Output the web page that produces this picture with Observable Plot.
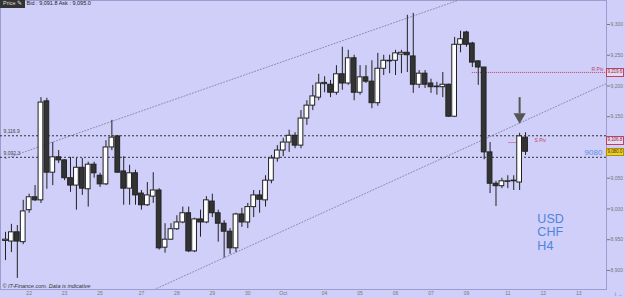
<!DOCTYPE html>
<html><head><meta charset="utf-8">
<script src="https://cdn.jsdelivr.net/npm/d3@7"></script>
<script src="https://cdn.jsdelivr.net/npm/@observablehq/plot@0.6"></script>
<style>
body{margin:0;background:#cfcff9;overflow:hidden;font-family:"Liberation Sans",Arial,sans-serif}
#wrap{position:relative;width:625px;height:298px}
.ov{position:absolute;white-space:nowrap;line-height:1}
</style></head>
<body><div id="wrap"></div>
<script>
// ---- data (USD/CHF H4 candles, values in pips x 10^-4) ----
const opens  = [8948,8947,8962,8946,8998,9019,9014,9175,9059,9084,9079,9050,9038,9067,9032,9072,9054,9040,9100,9118,9061,9033,9058,9025,9006,9020,9030,8937,8950,8967,8978,8993,8931,8983,8978,9012,8993,8976,8963,8936,8991,8978,9003,9022,9014,9046,9082,9095,9108,9119,9103,9147,9168,9181,9203,9202,9189,9219,9204,9245,9189,9214,9207,9172,9228,9240,9241,9251,9254,9248,9202,9220,9204,9198,9198,9202,9150,9267,9287,9269,9240,9230,9092,9041,9037,9044,9045,9043,9116];
const highs  = [8962,8975,8973,9014,9024,9038,9181,9180,9108,9095,9080,9084,9082,9082,9076,9076,9058,9111,9144,9119,9085,9071,9063,9030,9043,9059,9033,8976,8976,8989,9003,9003,8985,8998,9020,9024,8998,8981,8968,8993,9001,9009,9030,9030,9054,9087,9103,9115,9128,9124,9160,9176,9201,9219,9215,9209,9233,9263,9258,9250,9233,9233,9241,9253,9250,9250,9258,9258,9315,9318,9225,9225,9211,9206,9222,9203,9279,9289,9289,9271,9241,9230,9108,9045,9050,9054,9054,9123,9124];
const lows   = [8916,8929,8887,8942,8993,9012,9009,9032,9038,9074,9046,9027,8998,9022,9003,9050,9035,9038,9095,9058,9006,9006,9006,8998,9004,9009,8933,8928,8949,8965,8976,8929,8929,8954,8976,8986,8946,8920,8926,8929,8970,8968,8986,8993,9003,9041,9076,9085,9092,9098,9098,9136,9160,9176,9189,9181,9185,9193,9201,9176,9185,9204,9163,9167,9217,9220,9217,9220,9222,9188,9196,9196,9188,9185,9181,9149,9149,9254,9263,9230,9201,9080,9025,9004,9033,9033,9030,9030,9087];
const closes = [8950,8962,8947,8996,9019,9014,9173,9059,9084,9079,9050,9038,9067,9033,9072,9058,9040,9100,9116,9059,9033,9058,9022,9006,9022,9030,8936,8950,8967,8978,8993,8931,8983,8978,9014,8993,8976,8963,8936,8991,8978,9003,9022,9015,9046,9082,9095,9108,9119,9103,9147,9168,9183,9204,9205,9189,9219,9204,9245,9189,9214,9207,9172,9228,9241,9241,9253,9254,9250,9202,9220,9202,9198,9199,9202,9150,9267,9276,9267,9238,9230,9092,9041,9037,9045,9045,9046,9118,9093];

const xTickPos    = [4,10,16,23,29,35,41,47,54,60,66,72,78,85,91,97];
const xTickLabels = ["22","23","25","27","28","29","30","Oct","04","05","06","07","09","11","12","13"];
const yTicks = [8900,8950,9000,9050,9150,9200,9250,9300];

const levels = [9119, 9084];             // dashed horizontal levels
const levelLabels = ["9,116.9","9,092.3"];
const rPiv = 9222, rPivStart = 79, rPivLabel = "9,219.6";
const sPiv = 9108, sPivStart = 85.2, sPivEnd = 87, sPivLabel = "9,106.8";
const priceLevel = 9092, priceLabel = "9,080.0", priceText = "9080";
const upperTrend = [{i:0, v:9082},{i:76.5, v:9339}];
const lowerTrend = [{i:25.2, v:8869},{i:101.7, v:9204}];
const arrowAt = {i:87, top:9181, bottom:9155, head:9150};
const symbolLines = ["USD","CHF","H4"];
const symbolLineY = [8984,8962,8939];

const candles = opens.map((o,i)=>({i, open:o, high:highs[i], low:lows[i], close:closes[i]}));
const xDom = [-0.846, 101.7];

const plot = Plot.plot({
  width:625, height:298,
  marginLeft:0, marginRight:19, marginTop:0, marginBottom:9,
  style:{background:"#cfcff9", fontFamily:"Liberation Sans, Arial, sans-serif", overflow:"visible"},
  x:{domain:xDom, axis:null},
  y:{domain:[8869,9339], axis:null},
  marks:[
    Plot.frame({stroke:"#9c9cd0"}),
    Plot.ruleY(levels, {y:d=>d, stroke:"#333", strokeDasharray:"2,2"}),
    Plot.text(levels, {y:d=>d, text:(d,i)=>levelLabels[i], frameAnchor:"left", textAnchor:"start", dx:3, dy:-4, fontSize:5, fill:"#444"}),
    Plot.line(upperTrend, {x:"i", y:"v", stroke:"#8080a8", strokeWidth:0.9, strokeDasharray:"1,2", clip:true}),
    Plot.line(lowerTrend, {x:"i", y:"v", stroke:"#8080a8", strokeWidth:0.9, strokeDasharray:"1,2", clip:true}),
    Plot.ruleY([rPiv], {y:d=>d, x1:rPivStart, x2:xDom[1], stroke:"#c04060", strokeDasharray:"1,1"}),
    Plot.text([rPiv], {y:d=>d, x:xDom[1], text:()=>"R Piv", textAnchor:"end", dx:-3, dy:-3, fontSize:5, fill:"#c04060"}),
    Plot.ruleY([sPiv], {y:d=>d, x1:sPivStart, x2:sPivEnd, stroke:"#c04060", strokeDasharray:"1,1"}),
    Plot.text([sPiv], {y:d=>d, x:89.5, text:()=>"S Piv", textAnchor:"start", dy:-2, fontSize:5, fill:"#c04060"}),
    Plot.ruleX(candles, {x:"i", y1:"low", y2:"high", stroke:"#222"}),
    Plot.rect(candles, {x1:d=>d.i-0.4, x2:d=>d.i+0.4, y1:"open", y2:"close",
      fill:d=>d.close>=d.open?"#ffffff":"#333333", stroke:"#222", strokeWidth:1}),
    Plot.ruleX([arrowAt], {x:"i", y1:"top", y2:"bottom", stroke:"#555", strokeWidth:2}),
    Plot.dot([arrowAt], {x:"i", y:"head", symbol:"triangle", rotate:180, r:4.5, fill:"#555", stroke:"none"}),
    Plot.text([priceLevel], {y:d=>d, x:99.5, text:()=>priceText, fontSize:8, fill:"#5b8ee0"}),
    Plot.text(symbolLines, {x:90, y:(d,i)=>symbolLineY[i], text:d=>d, textAnchor:"start", fontSize:12.5, fill:"#4f84dc"}),
    Plot.text(["© IT-Finance.com. Data is indicative"], {frameAnchor:"bottom-left", dx:2, dy:-2, fontSize:5.5, fontStyle:"italic", fill:"#333"}),
    Plot.axisY({anchor:"right", ticks:yTicks, tickFormat:d3.format(","), tickSize:3, tickPadding:1, fontSize:5, color:"#777"}),
    Plot.axisX({ticks:xTickPos, tickFormat:d=>xTickLabels[xTickPos.indexOf(d)], tickSize:0, tickPadding:2, fontSize:5, color:"#777"})
  ]
});
const wrap = document.getElementById("wrap");
wrap.appendChild(plot);
const ys = plot.scale("y");
function box(text, v, bg, border, color){
  const d = document.createElement("div");
  d.className = "ov";
  d.textContent = text;
  Object.assign(d.style, {left:"606px", top:(ys.apply(v)-4)+"px", fontSize:"4.6px", padding:"1px 0.5px",
    background:bg, border:"1px solid "+border, color:color, letterSpacing:"-0.1px"});
  wrap.appendChild(d);
}
box(rPivLabel, rPiv, "#e8d8f0", "#c04060", "#803040");
box(sPivLabel, sPiv+3, "#e8d8f0", "#c04060", "#803040");
box(priceLabel, priceLevel, "#f0d020", "#b09000", "#333");
// header
const h = document.createElement("div");
h.className="ov";
h.style.left="0px"; h.style.top="0px"; h.style.fontSize="5.5px";
h.innerHTML = '<span style="background:#333;color:#ddd;padding:1px 3px;display:inline-block">Price &#9998;</span> <span style="color:#222">Bid : 9,091.8 Ask : 9,095.0</span>';
wrap.appendChild(h);
</script></body></html>
